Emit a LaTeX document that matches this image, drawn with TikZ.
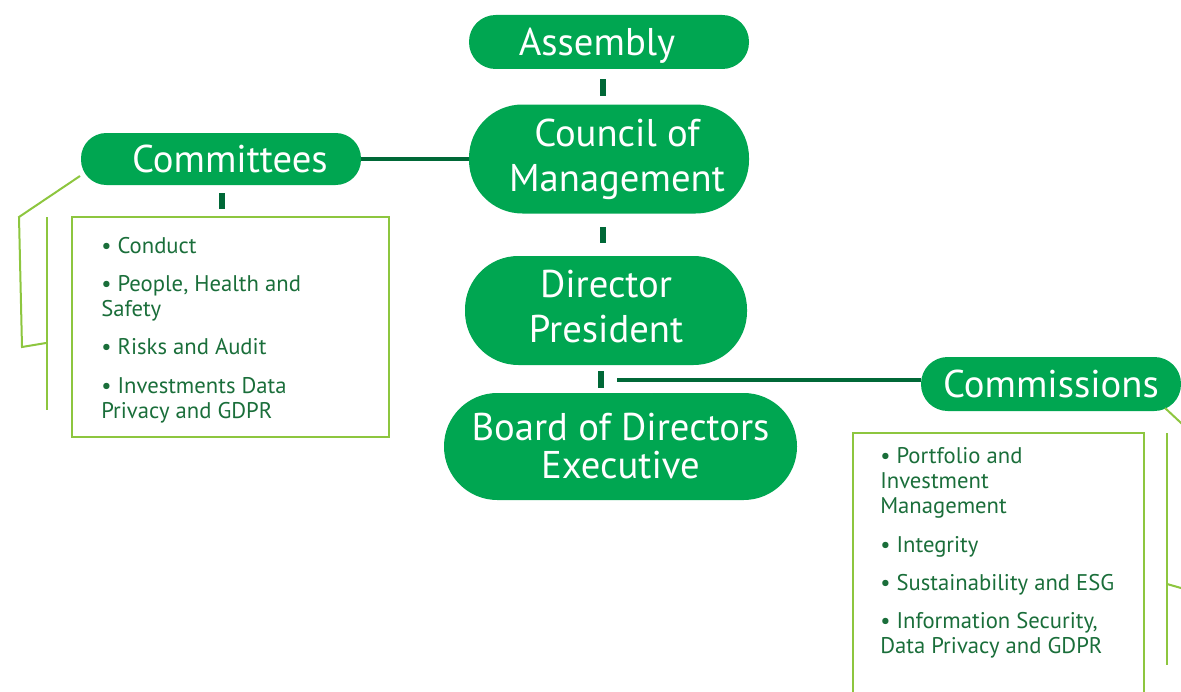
\documentclass[tikz,border=0pt]{standalone}
\usepackage{fontspec}
\setmainfont{PT Sans}
\usetikzlibrary{positioning}
\definecolor{orgGreen}{RGB}{0,166,81}
\definecolor{linkGreen}{RGB}{0,104,55}
\definecolor{listGreen}{RGB}{26,110,58}
\definecolor{frameGreen}{RGB}{141,198,63}
\tikzstyle{every picture} = [x=0.75pt, y=-0.75pt]
\tikzstyle{pill} = [rectangle, fill=orgGreen, text=white, align=center, inner sep=0pt, font=\fontsize{29}{33.75}\selectfont]
\tikzstyle{oneline} = [text height=20pt, text depth=0pt]
\tikzstyle{listbox} = [rectangle, draw=frameGreen, line width=1.5pt, inner sep=0pt]
\tikzstyle{listtext} = [text=listGreen, align=left, inner sep=0pt, font=\fontsize{17}{18.75}\selectfont]
\tikzstyle{tick} = [draw=linkGreen, line width=4.2pt]
\tikzstyle{link} = [draw=linkGreen, line width=3pt]
\tikzstyle{frameline} = [draw=frameGreen, line width=1.5pt]

\begin{document}
\begin{tikzpicture}
	\useasboundingbox (0,0) rectangle (1181,692);
	\clip (0,0) rectangle (1181,692);
	% central column
	\node (assembly) [pill, oneline, minimum width=210pt, minimum height=40.5pt, rounded corners=20pt] at (609,42) {Assembly\hspace*{18pt}};
	\node (council) [pill, minimum width=210pt, minimum height=81.75pt, rounded corners=40pt] at (609,159) {\hspace*{12pt}Council of\\\hspace*{12pt}Management};
	\node (director) [pill, minimum width=211.5pt, minimum height=81.75pt, rounded corners=40pt] at (606,310.5) {Director\\President\vphantom{g}};
	\node (board) [pill, minimum width=264.75pt, minimum height=80.25pt, rounded corners=40pt, font=\fontsize{29}{28.5}\selectfont] at (620.5,446.5) {Board of Directors\\Executive};
	% side branches
	\node (committees) [pill, oneline, minimum width=210pt, minimum height=39pt, rounded corners=19pt] at (221,159) {\hspace*{13.5pt}Committees};
	\node (commissions) [pill, oneline, minimum width=195pt, minimum height=40.5pt, rounded corners=20pt] at (1051,384) {Commissions};
	\coordinate (branch) at (617,380);
	% lists
	\node (comlist) [listbox, minimum width=237.75pt, minimum height=165pt] at (230.5,327) {};
	\node (comtext) [listtext, anchor=north west, below right=15.5pt and 22.5pt of comlist.north west] {%
		• Conduct\\[10pt]
		• People, Health and\\Safety\\[10pt]
		• Risks and Audit\\[10pt]
		• Investments Data\\Privacy and GDPR};
	\node (cmslist) [listbox, minimum width=218.25pt, minimum height=245.25pt] at (998.5,596.5) {};
	\node (cmstext) [listtext, anchor=north west, below right=11.75pt and 21pt of cmslist.north west] {%
		• Portfolio and\\Investment\\Management\\[10pt]
		• Integrity\\[10pt]
		• Sustainability and ESG\\[10pt]
		• Information Security,\\Data Privacy and GDPR};
	% connectors
	\path ([xshift=-4.5pt]assembly.south) edge[tick, shorten <=7.5pt, shorten >=6pt] ([xshift=-4.5pt]council.north);
	\path ([xshift=-4.5pt]council.south) edge[tick, shorten <=9.75pt, shorten >=9.75pt] ([xshift=-4.5pt]council.south |- director.north);
	\path ([xshift=-3.75pt]director.south) edge[tick, shorten <=4.5pt, shorten >=3.75pt] ([xshift=-3.75pt]director.south |- board.north);
	\path ([xshift=0.75pt]committees.south) edge[tick, shorten <=6pt, shorten >=5.25pt] ([xshift=0.75pt]committees.south |- comlist.north);
	\path (committees.east) edge[link] (council.west);
	\path (branch) edge[link] (branch -| commissions.west);
	% side frames
	\draw[frameline] (80,176) -- (19,217) -- (22,347) -- (46,343);
	\draw[frameline] (47,217) -- (47,410);
	\draw[frameline] (1165,408) -- (1195,436) -- (1195,592) -- (1167,584);
	\draw[frameline] (1167,433) -- (1167,665);
\end{tikzpicture}
\end{document}
